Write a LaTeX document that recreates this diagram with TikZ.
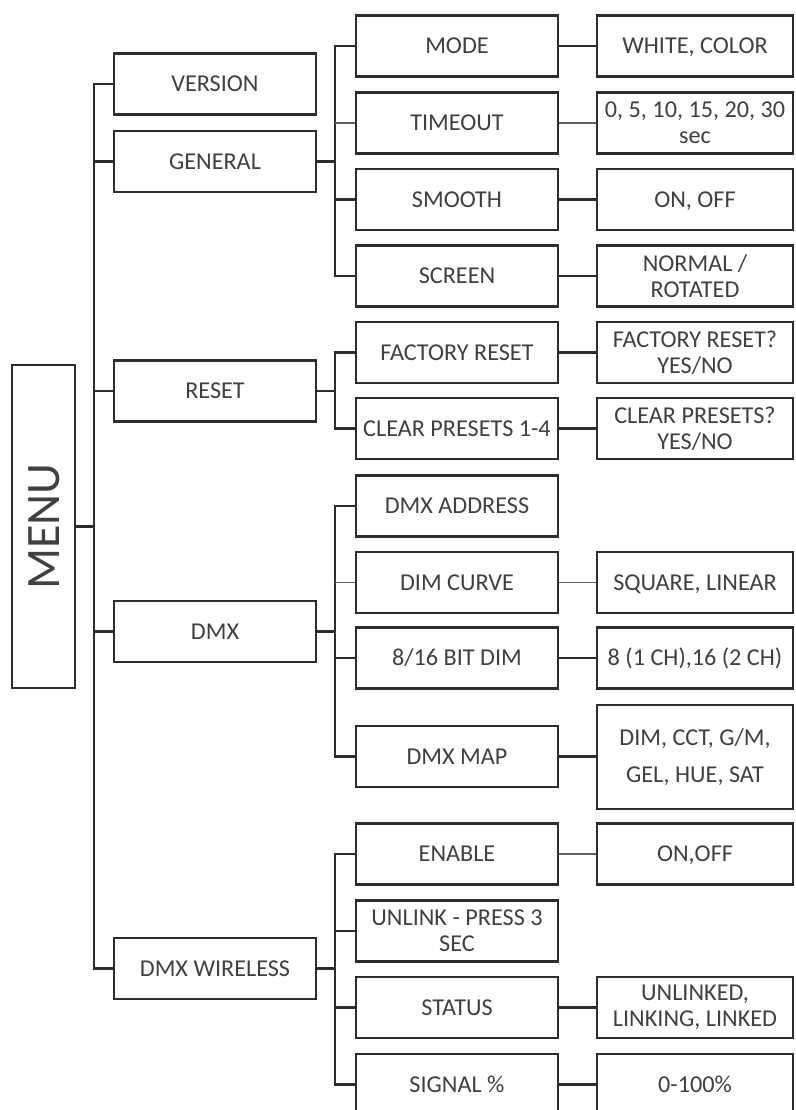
\documentclass[tikz,border=0pt]{standalone}
\usepackage{fontspec}
\setmainfont{Carlito}
\definecolor{linec}{RGB}{45,45,45}
\definecolor{txtc}{RGB}{64,64,64}
\begin{document}
\begin{tikzpicture}[x=1pt,y=-1pt,
  box/.style={draw=linec, line width=2.2pt, minimum width=202pt, minimum height=61pt,
    inner sep=0pt, align=center, text=txtc, font=\fontsize{24.2}{26}\selectfont},
  lbox/.style={box, minimum width=196pt},
  oneline/.style={text height=15.5pt, text depth=0pt},
  link/.style={draw=linec, line width=2.2pt, line cap=rect},
  thinlink/.style={draw=linec!75, line width=1.5pt}]
\useasboundingbox (0,0) rectangle (795,1110);
\clip (0,0) rectangle (795,1110);
\fill[white] (0,0) rectangle (795,1110);

% root
\node[box, rotate=90, minimum width=323pt, minimum height=63pt,
  text height=31pt, text depth=0pt, font=\fontsize{48}{50}\selectfont] (menu) at (43.5,526.5) {MENU};

% level 1
\node[box, oneline] (ver)   at (215,84)    {VERSION};
\node[box, oneline] (gen)   at (215,161.5) {GENERAL};
\node[box, oneline] (reset) at (215,391)   {RESET};
\node[box, oneline] (dmx)   at (215,631.5) {DMX};
\node[box, oneline] (dmxw)  at (215,968.5) {DMX WIRELESS};

% level 2
\node[box, oneline] (mode)    at (457,46)    {MODE};
\node[box, oneline] (timeout) at (457,123)   {TIMEOUT};
\node[box, oneline] (smooth)  at (457,199.5) {SMOOTH};
\node[box, oneline] (screen)  at (457,276)   {SCREEN};
\node[box, oneline] (fres)    at (457,352.5) {FACTORY RESET};
\node[box, oneline] (clr)     at (457,428.5) {CLEAR PRESETS 1-4};
\node[box, oneline] (addr)    at (457,506)   {DMX ADDRESS};
\node[box, oneline] (dimc)    at (457,582.5) {DIM CURVE};
\node[box, oneline] (bit)     at (457,658)   {8/16 BIT DIM};
\node[box, oneline] (map)     at (457,756.5) {DMX MAP};
\node[box, oneline] (enable)  at (457,854)   {ENABLE};
\node[box] (unlink)  at (457,931)   {UNLINK - PRESS 3\\SEC};
\node[box, oneline] (status)  at (457,1007.5){STATUS};
\node[box, oneline] (signal)  at (457,1084.5){SIGNAL \%};

% level 3
\node[lbox, oneline] (white)  at (695,46)    {WHITE, COLOR};
\node[lbox] (tval)   at (695,123)   {0, 5, 10, 15, 20, 30\\sec};
\node[lbox, oneline] (onoff)  at (695,199.5) {ON, OFF};
\node[lbox] (normal) at (695,276)   {NORMAL /\\ROTATED};
\node[lbox] (fresq)  at (695,352.5) {FACTORY RESET?\\YES/NO};
\node[lbox] (clrq)   at (695,428.5) {CLEAR PRESETS?\\YES/NO};
\node[lbox, oneline] (sqlin)  at (695,582.5) {SQUARE, LINEAR};
\node[lbox, oneline] (bitv)   at (695,658)   {8 (1 CH),16 (2 CH)};
\node[lbox, minimum height=104pt] (mapv) at (695,757) {DIM, CCT, G/M,\\[11pt]GEL, HUE, SAT};
\node[lbox, oneline] (onoff2) at (695,854)   {ON,OFF};
\node[lbox] (stv)    at (695,1007.5){UNLINKED,\\LINKING, LINKED};
\node[lbox, oneline] (sigv)   at (695,1084.5){0-100\%};

% trunks
\coordinate (t0) at (94,0);
\coordinate (t1) at (335,0);

\draw[link] (menu.south) -- (menu.south -| t0);
\draw[link] (ver.west -| t0) -- (dmxw.west -| t0);
\foreach \n in {ver,gen,reset,dmx,dmxw}
  \draw[link] (\n.west -| t0) -- (\n.west);

% GENERAL group
\draw[link] (gen.east) -- (gen.east -| t1);
\draw[link] (mode.west -| t1) -- (screen.west -| t1);
\foreach \n in {mode,smooth,screen}
  \draw[link] (\n.west -| t1) -- (\n.west);
\draw[thinlink] (timeout.west -| t1) -- (timeout.west);

% RESET group
\draw[link] (reset.east) -- (reset.east -| t1);
\draw[link] (fres.west -| t1) -- (clr.west -| t1);
\foreach \n in {fres,clr}
  \draw[link] (\n.west -| t1) -- (\n.west);

% DMX group
\draw[link] (dmx.east) -- (dmx.east -| t1);
\draw[link] (addr.west -| t1) -- (map.west -| t1);
\foreach \n in {addr,bit,map}
  \draw[link] (\n.west -| t1) -- (\n.west);
\draw[thinlink] (dimc.west -| t1) -- (dimc.west);

% DMX WIRELESS group
\draw[link] (dmxw.east) -- (dmxw.east -| t1);
\draw[link] (enable.west -| t1) -- (signal.west -| t1);
\foreach \n in {enable,unlink,status,signal}
  \draw[link] (\n.west -| t1) -- (\n.west);

% level 2 -> level 3
\draw[link] (mode.east) -- (white.west);
\draw[thinlink] (timeout.east) -- (tval.west);
\draw[link] (smooth.east) -- (onoff.west);
\draw[link] (screen.east) -- (normal.west);
\draw[link] (fres.east) -- (fresq.west);
\draw[link] (clr.east) -- (clrq.west);
\draw[thinlink] (dimc.east) -- (sqlin.west);
\draw[link] (bit.east) -- (bitv.west);
\draw[link] (map.east) -- (map.east -| mapv.west);
\draw[thinlink] (enable.east) -- (onoff2.west);
\draw[link] (status.east) -- (stv.west);
\draw[link] (signal.east) -- (sigv.west);
\end{tikzpicture}
\end{document}
